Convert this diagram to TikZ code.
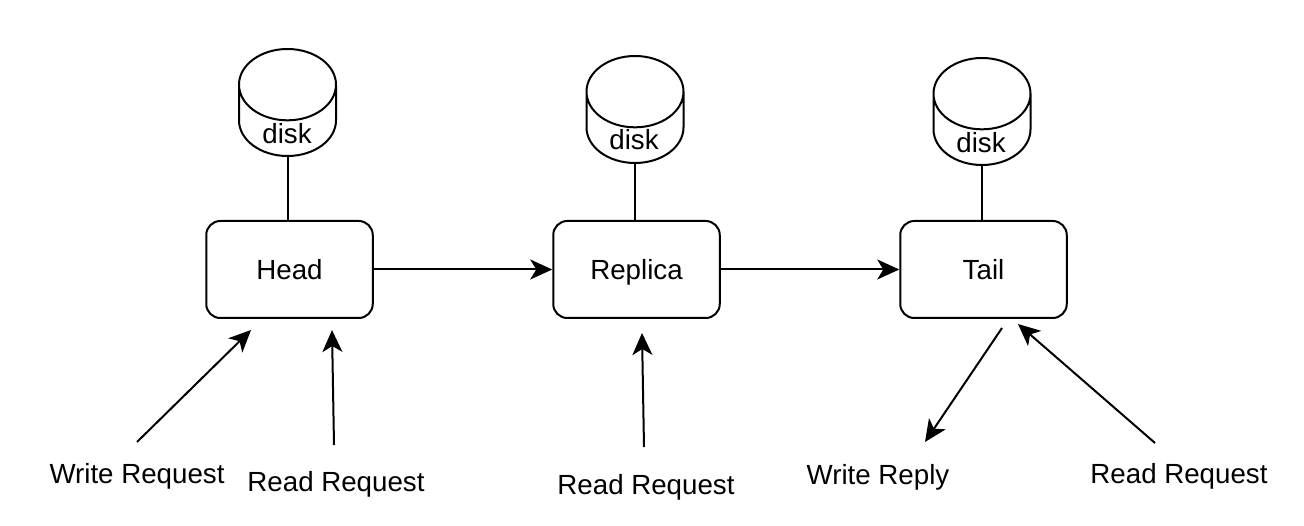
\documentclass[tikz,border=0pt]{standalone}
\usepackage{fontspec}
\setmainfont{Liberation Sans}
\usetikzlibrary{positioning,arrows.meta,shapes.geometric}

\begin{document}
\begin{tikzpicture}[
				x=1pt, y=-1pt,
				line width=2pt,
				block/.style={rectangle, rounded corners=14pt, draw=black, minimum width=166.5pt, minimum height=97pt, text height=20pt, text depth=0pt, font=\fontsize{27.7}{28}\selectfont},
				disk/.style={cylinder, shape border rotate=90, aspect=10.7, draw=black, anchor=south, minimum width=97pt, minimum height=107pt},
				disklabel/.style={font=\fontsize{27.7}{28}\selectfont, inner sep=0pt},
				label/.style={font=\fontsize{27.7}{28}\selectfont, inner sep=0pt},
				flow/.style={-{Stealth[length=22pt, width=20pt, inset=6pt]}}
			]
			\useasboundingbox (0,0) rectangle (1304,526);
			\node[block] (head) at (289.5,269.5) {Head};
			\node[block] (replica) [right=178.5pt of head] {Replica};
			\node[block] (tail) [right=178.5pt of replica] {Tail};
			\node[disk] (headdisk) at (287.5,157) {};
			\node[disk] (replicadisk) at (635,164) {};
			\node[disk] (taildisk) at (982,166) {};
			\node[disklabel] (headdisktext) at (287,134) {disk};
			\node[disklabel] (replicadisktext) at (634,140) {disk};
			\node[disklabel] (taildisktext) at (981,143) {disk};
			\node[label] (writereq) at (137,476) {Write Request};
			\node[label] (readhead) at (336,484) {Read Request};
			\node[label] (readreplica) at (646,487) {Read Request};
			\node[label] (writereply) at (878,477) {Write Reply};
			\node[label] (readtail) at (1179,476) {Read Request};
			\coordinate (writestart) at (137,442);
			\coordinate (writeend) at (251,330);
			\coordinate (readheadstart) at (334,445);
			\coordinate (readheadend) at (332,330);
			\coordinate (readreplicastart) at (644,447);
			\coordinate (readreplicaend) at (642,333);
			\coordinate (replystart) at (1002,328);
			\coordinate (replyend) at (925,442);
			\coordinate (readtailstart) at (1155,443);
			\coordinate (readtailend) at (1018,324);
			\draw (headdisk.south) -- (head.north -| headdisk.south);
			\draw (replicadisk.south) -- (replica.north -| replicadisk.south);
			\draw (taildisk.south) -- (tail.north -| taildisk.south);
			\begin{scope}[flow]
			\draw (head.east) -- (replica.west);
			\draw (replica.east) -- (tail.west);
			\draw (writestart) -- (writeend);
			\draw (readheadstart) -- (readheadend);
			\draw (readreplicastart) -- (readreplicaend);
			\draw (replystart) -- (replyend);
			\draw (readtailstart) -- (readtailend);
			\end{scope}
\end{tikzpicture}
\end{document}
